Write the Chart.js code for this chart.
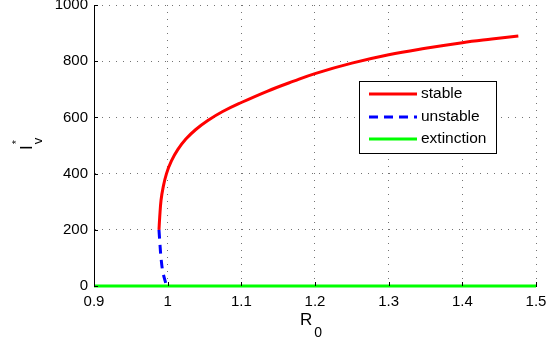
<!DOCTYPE html>
<html>
<head>
<meta charset="utf-8">
<script src="https://cdn.jsdelivr.net/npm/chart.js@4/dist/chart.umd.min.js"></script>
<style>
html,body{margin:0;padding:0;background:#fff;}
#wrap{width:546px;height:347px;position:relative;}
</style>
</head>
<body>
<div id="wrap"><canvas id="c" width="546" height="347"></canvas></div>
<script>
// ---- data ----
const stableR = [0.9882, 0.9892, 0.9910, 0.9939, 0.9984, 1.0051, 1.0139, 1.0247, 1.0382, 1.0545, 1.0747, 1.100, 1.135, 1.171, 1.200, 1.250, 1.300, 1.350, 1.400, 1.440, 1.476];
const stableI = [200, 245, 305, 352, 400, 445, 486, 523, 557, 589, 621, 653, 693, 729, 756, 793, 823, 846, 866, 879, 890];
const unstableR = [0.9882, 0.9895, 0.991, 0.9935, 0.9985];
const unstableI = [200, 150, 100, 50, 0];
const extinctionR = [0.9, 1.5];
const extinctionI = [0, 0];
const seriesLabels = ['stable', 'unstable', 'extinction'];
const xTickLabels = ['0.9', '1', '1.1', '1.2', '1.3', '1.4', '1.5'];
const yTickLabels = ['0', '200', '400', '600', '800', '1000'];

const FONT = '"Liberation Sans", Arial, Helvetica, sans-serif';
const pts = (xs, ys) => xs.map((x, i) => ({x: x, y: ys[i]}));

const colors = ['#ff0000', '#0000ff', '#00ff00'];
const dashes = [[], [9, 6], []];

const overlay = {
  id: 'overlay',
  afterDatasetsDraw(chart) {
    const ctx = chart.ctx;
    const a = chart.chartArea;
    const xs = chart.scales.x, ys = chart.scales.y;
    ctx.save();
    // inward tick marks
    ctx.strokeStyle = '#000';
    ctx.lineWidth = 1;
    ctx.beginPath();
    ys.ticks.forEach(t => {
      const py = Math.round(ys.getPixelForValue(t.value)) + 0.5;
      ctx.moveTo(a.left, py); ctx.lineTo(a.left + 4, py);
    });
    xs.ticks.forEach(t => {
      const px = Math.round(xs.getPixelForValue(t.value)) + 0.5;
      ctx.moveTo(px, a.bottom); ctx.lineTo(px, a.bottom - 4);
    });
    ctx.stroke();

    // legend box
    const lx = 359.5, ly = 81.5, lw = 137, lh = 72;
    ctx.fillStyle = '#fff';
    ctx.fillRect(lx, ly, lw, lh);
    ctx.strokeStyle = '#000';
    ctx.lineWidth = 1;
    ctx.strokeRect(lx, ly, lw, lh);
    const rows = [94, 117, 139];
    chart.data.datasets.forEach((ds, i) => {
      ctx.beginPath();
      ctx.strokeStyle = ds.borderColor;
      ctx.lineWidth = 3;
      ctx.setLineDash(ds.borderDash || []);
      ctx.moveTo(369, rows[i]); ctx.lineTo(417, rows[i]);
      ctx.stroke();
      ctx.setLineDash([]);
      ctx.fillStyle = '#000';
      ctx.font = '15.5px ' + FONT;
      ctx.textBaseline = 'middle';
      ctx.textAlign = 'left';
      ctx.fillText(ds.label, 421, rows[i]);
    });

    // x-axis title R_0
    ctx.fillStyle = '#000';
    ctx.textBaseline = 'alphabetic';
    ctx.textAlign = 'left';
    ctx.font = '17px ' + FONT;
    ctx.fillText('R', 300, 325);
    const rw = ctx.measureText('R').width;
    ctx.font = '14px ' + FONT;
    ctx.fillText('0', 300 + rw + 2, 337);

    // y-axis title I*_v (rotated)
    ctx.save();
    ctx.translate(32, 150);
    ctx.rotate(-Math.PI / 2);
    ctx.font = '17px ' + FONT;
    ctx.fillText('I', 0, 0);
    const iw = ctx.measureText('I').width;
    ctx.font = '11px ' + FONT;
    ctx.fillText('*', iw + 1, -12);
    ctx.font = '13px ' + FONT;
    ctx.fillText('v', iw + 1, 10);
    ctx.restore();

    ctx.restore();
  }
};

new Chart(document.getElementById('c'), {
  type: 'scatter',
  data: {
    datasets: [
      {label: seriesLabels[0], data: pts(stableR, stableI), borderColor: colors[0], borderWidth: 3, showLine: true, pointRadius: 0, tension: 0.4, borderDash: dashes[0], clip: 4, order: 2},
      {label: seriesLabels[1], data: pts(unstableR, unstableI), borderColor: colors[1], borderWidth: 3, showLine: true, pointRadius: 0, tension: 0.4, borderDash: dashes[1], clip: 4, order: 1},
      {label: seriesLabels[2], data: pts(extinctionR, extinctionI), borderColor: colors[2], borderWidth: 3, showLine: true, pointRadius: 0, tension: 0, borderDash: dashes[2], clip: 4, order: 0}
    ]
  },
  options: {
    responsive: false,
    animation: false,
    devicePixelRatio: 1,
    layout: {padding: {top: 5, right: 10, left: 0, bottom: 0}},
    plugins: {legend: {display: false}, tooltip: {enabled: false}},
    scales: {
      x: {
        type: 'linear', min: 0.9, max: 1.5,
        afterBuildTicks: s => { s.ticks = xTickLabels.map(v => ({value: parseFloat(v)})); },
        ticks: {
          callback: (v, i) => xTickLabels[i],
          color: '#000', font: {family: FONT, size: 15}, padding: 7, maxRotation: 0, autoSkip: false
        },
        grid: {color: 'rgba(0,0,0,0.55)', lineWidth: 1, drawTicks: false},
        border: {display: true, color: '#000', width: 1, dash: [1, 6]},
        afterFit: s => { s.height = 61; s.paddingLeft = 0; s.paddingRight = 0; }
      },
      y: {
        type: 'linear', min: 0, max: 1000,
        afterBuildTicks: s => { s.ticks = yTickLabels.map(v => ({value: parseFloat(v)})); },
        ticks: {
          callback: (v, i) => yTickLabels[i],
          color: '#000', font: {family: FONT, size: 15}, padding: 6, autoSkip: false
        },
        grid: {color: 'rgba(0,0,0,0.55)', lineWidth: 1, drawTicks: false},
        border: {display: true, color: '#000', width: 1, dash: [1, 6]},
        afterFit: s => { s.width = 94; s.paddingTop = 0; s.paddingBottom = 0; }
      }
    }
  },
  plugins: [overlay]
});
</script>
</body>
</html>
